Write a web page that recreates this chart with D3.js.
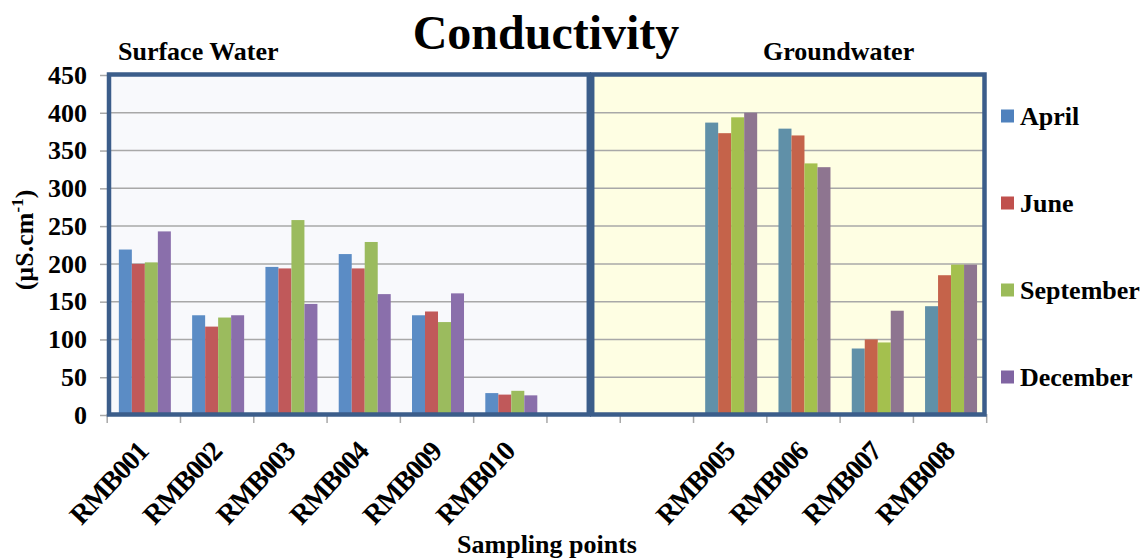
<!DOCTYPE html>
<html>
<head>
<meta charset="utf-8">
<script src="https://cdn.jsdelivr.net/npm/d3@7/dist/d3.min.js"></script>
<style>
  html, body { margin: 0; padding: 0; background: #ffffff; }
  svg { display: block; }
  text { font-family: "Liberation Serif", "Times New Roman", serif; font-weight: bold; fill: #000; }
</style>
</head>
<body>
<svg id="chart" width="1146" height="560"></svg>
<script>
// ---------- data ----------
const categories = ["RMB001", "RMB002", "RMB003", "RMB004", "RMB009", "RMB010", "", "", "RMB005", "RMB006", "RMB007", "RMB008"];
const months = ["April", "June", "September", "December"];
const april     = [219, 132, 196, 213, 132, 29, null, null, 387, 379,  88, 144];
const june      = [200, 117, 194, 194, 137, 27, null, null, 373, 370, 100, 185];
const september = [202, 129, 258, 229, 123, 32, null, null, 394, 333,  96, 199];
const december  = [243, 132, 147, 160, 161, 26, null, null, 400, 328, 138, 199];
const seriesValues = [april, june, september, december];
const groupNames = ["Surface Water", "Groundwater"];
const yTicks = [0, 50, 100, 150, 200, 250, 300, 350, 400, 450];
const chartTitle = "Conductivity";
const xTitle = "Sampling points";

// ---------- styles ----------
const leftColors  = ["#5b8cc5", "#c0595a", "#9bbb5e", "#8a6fab"];
const rightColors = ["#6090a8", "#c5634a", "#a4c04e", "#8e7590"];
const legendColors = ["#4f81bd", "#c0504d", "#9bbb59", "#8064a2"];
const borderColor = "#3b5d8a";
const gridColor = "#a8a8a8";

const svg = d3.select("#chart");

const y = d3.scaleLinear().domain([0, 450]).range([415, 75]);
const x = d3.scaleBand().domain(d3.range(categories.length)).range([107.2, 986.7]).paddingInner(0).paddingOuter(0);
const groupW = 52;
const x1 = d3.scaleBand().domain(d3.range(months.length)).range([0, groupW]).padding(0);
const barOffset = (x.bandwidth() - groupW) / 2 + 1;

// panels
const panelTop = 74.5, panelBottom = 414.5;
const leftPanel = { x0: 109, x1: 588.8, fill: "#f8f9fc" };
const rightPanel = { x0: 592.2, x1: 984.5, fill: "#fefee3" };
[leftPanel, rightPanel].forEach(p => {
  svg.append("rect")
    .attr("x", p.x0).attr("y", panelTop)
    .attr("width", p.x1 - p.x0).attr("height", panelBottom - panelTop)
    .attr("fill", p.fill);
});

// gridlines
svg.append("g").selectAll("line")
  .data(yTicks.filter(t => t > 0 && t < 450))
  .join("line")
  .attr("x1", 109).attr("x2", 984.5)
  .attr("y1", d => y(d)).attr("y2", d => y(d))
  .attr("stroke", gridColor).attr("stroke-width", 1.5);

// y axis ticks and labels
const yAxis = d3.axisLeft(y).tickValues(yTicks).tickSize(9).tickPadding(14);
const gy = svg.append("g").attr("transform", "translate(109,0)").call(yAxis);
gy.select(".domain").remove();
gy.selectAll(".tick line").attr("stroke", gridColor).attr("stroke-width", 1.5);
gy.selectAll(".tick text")
  .attr("font-family", "Liberation Serif, serif").attr("font-weight", "bold")
  .attr("font-size", 26).attr("fill", "#000").attr("x", -22);

// x axis ticks at category boundaries
const boundaries = d3.range(categories.length + 1).map(i => 107.2 + i * x.step());
svg.append("g").selectAll("line")
  .data(boundaries)
  .join("line")
  .attr("x1", d => d).attr("x2", d => d)
  .attr("y1", 414).attr("y2", 423)
  .attr("stroke", gridColor).attr("stroke-width", 1.5);

// bars
const barG = svg.append("g");
categories.forEach((cat, ci) => {
  seriesValues.forEach((vals, si) => {
    const v = vals[ci];
    if (v == null) return;
    const colors = ci >= 6 ? rightColors : leftColors;
    barG.append("rect")
      .attr("x", x(ci) + barOffset + x1(si))
      .attr("y", y(v))
      .attr("width", x1.bandwidth())
      .attr("height", y(0) - y(v))
      .attr("fill", colors[si]);
  });
});

// panel borders
[leftPanel, rightPanel].forEach(p => {
  svg.append("rect")
    .attr("x", p.x0).attr("y", panelTop)
    .attr("width", p.x1 - p.x0).attr("height", panelBottom - panelTop)
    .attr("fill", "none").attr("stroke", borderColor).attr("stroke-width", 4.5);
});

// x tick labels
svg.append("g").selectAll("text")
  .data(categories.map((c, i) => ({ c, i })).filter(d => d.c !== ""))
  .join("text")
  .attr("transform", d => `translate(${x(d.i) + x.bandwidth() / 2 + 6},${453}) rotate(-47)`)
  .attr("text-anchor", "end")
  .attr("font-size", 28)
  .attr("letter-spacing", -1.2)
  .text(d => d.c);

// group labels
svg.append("text").attr("x", 118).attr("y", 60).attr("font-size", 26).text(groupNames[0]);
svg.append("text").attr("x", 763).attr("y", 60).attr("font-size", 26).text(groupNames[1]);

// title
svg.append("text").attr("x", 546).attr("y", 49).attr("text-anchor", "middle")
  .attr("font-size", 48).text(chartTitle);

// x title
svg.append("text").attr("x", 547).attr("y", 553).attr("text-anchor", "middle")
  .attr("font-size", 26).text(xTitle);

// y title
const yt = svg.append("text")
  .attr("transform", "translate(33,240) rotate(-90)")
  .attr("text-anchor", "middle")
  .attr("font-size", 26);
yt.append("tspan").text("(µS.cm");
yt.append("tspan").attr("font-size", 17).attr("dy", -10).text("-1");
yt.append("tspan").attr("dy", 10).text(")");

// legend
const lg = svg.append("g");
months.forEach((m, i) => {
  const ly = 109.5 + i * 87;
  lg.append("rect").attr("x", 1001).attr("y", ly).attr("width", 13).attr("height", 13)
    .attr("fill", legendColors[i]);
  lg.append("text").attr("x", 1020).attr("y", ly + 15.5).attr("font-size", 26).text(m);
});
</script>
</body>
</html>
